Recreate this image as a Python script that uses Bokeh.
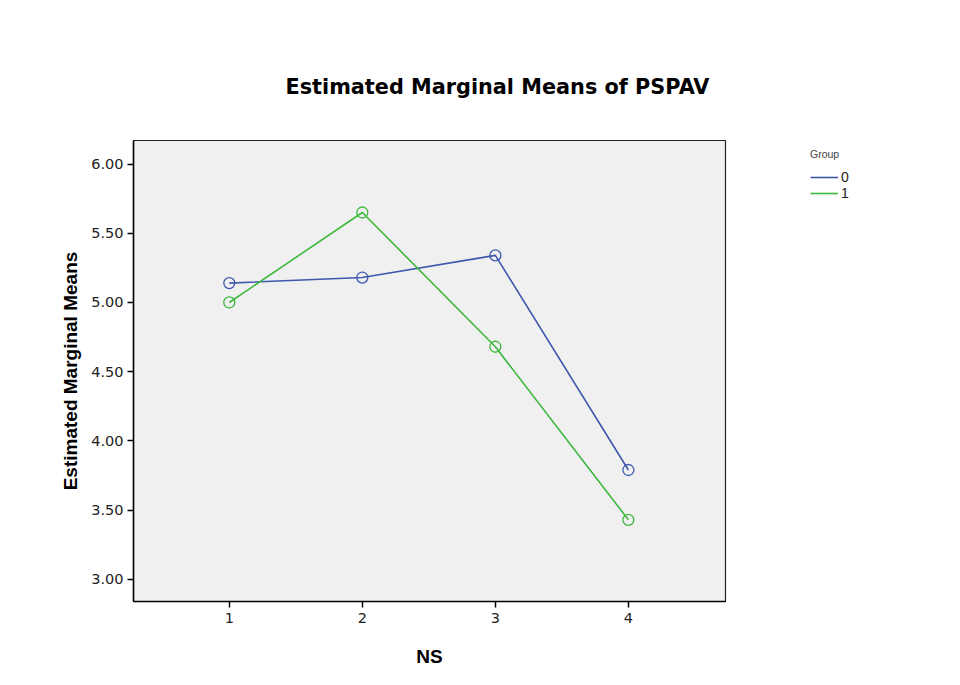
from bokeh.plotting import figure
from bokeh.models import Range1d, FixedTicker, NumeralTickFormatter, Legend, LegendItem
from bokeh.layouts import row
from bokeh.embed import file_html
from bokeh.resources import INLINE

ns = [1, 2, 3, 4]
group0 = [5.14, 5.18, 5.34, 3.79]
group1 = [5.00, 5.65, 4.68, 3.43]
group_labels = ["0", "1"]
y_ticks = [3.0, 3.5, 4.0, 4.5, 5.0, 5.5, 6.0]

BLUE = "#3E58AC"
GREEN = "#3EB83E"
FONT = "Liberation Sans"
WIDE = "DejaVu Sans"

p = figure(width=760, height=669, output_backend="svg", toolbar_location=None,
           x_range=Range1d(0.28, 4.73), y_range=Range1d(2.84, 6.17),
           min_border_left=133, min_border_right=35, min_border_top=140, min_border_bottom=65)

p.background_fill_color = "#F0F0F0"
p.border_fill_color = "white"
p.outline_line_color = "#222222"
p.outline_line_width = 1.2
p.grid.visible = False

p.title.text = "Estimated Marginal Means of PSPAV"
p.title.text_font = WIDE
p.title.text_font_size = "20.8px"
p.title.text_font_style = "bold"
p.title.text_color = "black"
p.title.align = "left"
p.title.offset = 152
p.title.standoff = 84

for ax in (p.xaxis[0], p.yaxis[0]):
    ax.axis_line_color = "black"
    ax.axis_line_width = 1.5
    ax.major_tick_line_color = "black"
    ax.major_tick_line_width = 1.5
    ax.major_tick_out = 6
    ax.major_tick_in = 0
    ax.minor_tick_out = 0
    ax.minor_tick_in = 0
    ax.major_label_text_font = WIDE
    ax.major_label_text_font_size = "14.5px"
    ax.major_label_text_color = "#222222"
    ax.axis_label_text_font = FONT
    ax.axis_label_text_font_style = "bold"
    ax.axis_label_text_font_size = "19px"
    ax.axis_label_text_color = "black"

p.xaxis.ticker = FixedTicker(ticks=ns)
p.yaxis.ticker = FixedTicker(ticks=y_ticks)
p.yaxis.formatter = NumeralTickFormatter(format="0.00")
p.xaxis.axis_label = "NS"
p.yaxis.axis_label = "Estimated Marginal Means"
p.xaxis.major_label_standoff = 5
p.yaxis.major_label_standoff = 4
p.xaxis.axis_label_standoff = 20
p.yaxis.axis_label_standoff = 7

p.line(ns, group0, line_color=BLUE, line_width=1.6)
p.line(ns, group1, line_color=GREEN, line_width=1.6)
p.scatter(ns, group0, marker="circle", size=11, fill_color=None, line_color=BLUE, line_width=1.3)
p.scatter(ns, group1, marker="circle", size=11, fill_color=None, line_color=GREEN, line_width=1.3)

# side figure that only holds the legend (its frame is aligned with the main frame);
# its line renderers fall outside its 0..1 ranges, so only the legend shows
q = figure(width=184, height=669, output_backend="svg", toolbar_location=None,
           x_range=Range1d(0, 1), y_range=Range1d(0, 1),
           x_axis_type=None, y_axis_type=None, min_border=0)
q.outline_line_color = None
q.grid.visible = False
q.background_fill_color = "white"
q.border_fill_color = "white"
k0 = q.line(ns, group0, line_color=BLUE, line_width=1.6)
k1 = q.line(ns, group1, line_color=GREEN, line_width=1.6)

legend = Legend(items=[LegendItem(label=group_labels[0], renderers=[k0]),
                       LegendItem(label=group_labels[1], renderers=[k1])],
                title="Group", location=(50, 400))
legend.title_text_font = FONT
legend.title_text_font_size = "10.5px"
legend.title_text_font_style = "normal"
legend.title_text_color = "#444444"
legend.title_standoff = 9
legend.label_text_font = FONT
legend.label_text_font_size = "14px"
legend.label_text_color = "#222222"
legend.glyph_width = 28
legend.glyph_height = 16
legend.label_height = 16
legend.label_standoff = 3
legend.spacing = 0
legend.padding = 0
legend.margin = 0
legend.border_line_color = None
legend.background_fill_alpha = 0
q.add_layout(legend)

layout = row(p, q)
open("out.html", "w").write(file_html(layout, INLINE))
